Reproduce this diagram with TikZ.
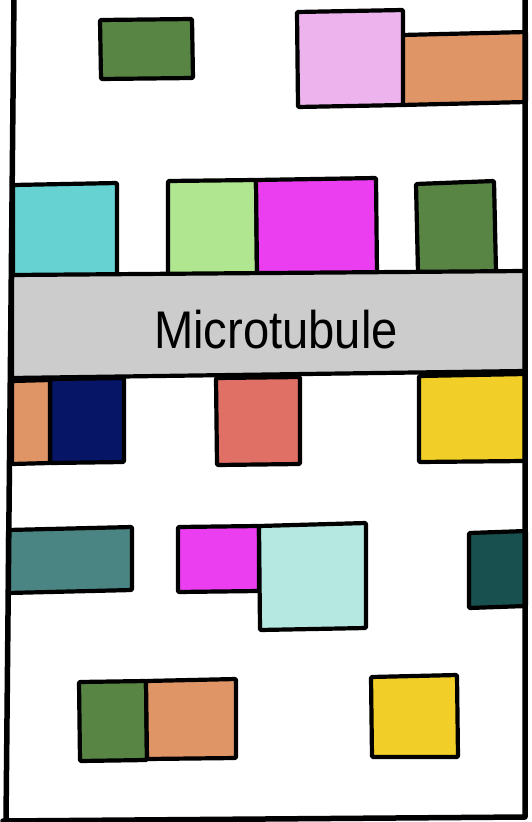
\documentclass[tikz,border=0pt]{standalone}
\usepackage{fontspec}
\newfontfamily\labelfont{Liberation Sans}
\definecolor{dgreen}{HTML}{588543}
\definecolor{pinkc}{HTML}{ECB3EC}
\definecolor{orangec}{HTML}{E09566}
\definecolor{cyanc}{HTML}{66D2D2}
\definecolor{lgreen}{HTML}{B0E690}
\definecolor{magentac}{HTML}{EA3EF0}
\definecolor{grayc}{HTML}{CCCCCC}
\definecolor{navyc}{HTML}{061565}
\definecolor{salmonc}{HTML}{E07065}
\definecolor{yellowc}{HTML}{F2CF28}
\definecolor{tealc}{HTML}{4A8584}
\definecolor{lcyanc}{HTML}{B4E8E0}
\definecolor{dtealc}{HTML}{185050}
\tikzset{
  blk/.style={draw=black, line width=4.2pt, line join=round, rounded corners=1pt},
  frameline/.style={draw=black, line width=5.5pt, line cap=round, line join=round},
}
\begin{document}
\begin{tikzpicture}[x=1pt,y=-1pt]
\useasboundingbox (0,0) rectangle (532,822);
\fill[white] (0,0) rectangle (532,822);
% top row
\draw[blk, fill=dgreen] (100,20) -- (192,19) -- (193,78) -- (101,79) -- cycle;
\draw[blk, fill=orangec] (402,35) -- (526,32) -- (526,102) -- (402,105) -- cycle;
\draw[blk, fill=pinkc] (297,12) -- (403,10) -- (403,105) -- (298,107) -- cycle;
% row above band
\draw[blk, fill=cyanc] (13,185) -- (117,183) -- (117,276) -- (13,277) -- cycle;
\draw[blk, fill=lgreen] (168,181) -- (256,180) -- (257,275) -- (168,276) -- cycle;
\draw[blk, fill=magentac] (256,180) -- (376,178) -- (377,274) -- (257,275) -- cycle;
\draw[blk, fill=dgreen] (416,184) -- (494,181) -- (496,272) -- (418,273) -- cycle;
% band
\draw[blk, fill=grayc] (12,275) -- (525,271) -- (525,371) -- (12,378) -- cycle;
\node[font=\labelfont\fontsize{53}{53}\selectfont, xscale=0.89, inner sep=0pt] (mt) at (276,330) {Microtubule};
% row below band
\draw[blk, fill=navyc] (50,379) -- (124,378) -- (124,462) -- (50,463) -- cycle;
\draw[blk, fill=orangec] (12,381) -- (50,380) -- (50,463) -- (12,464) -- cycle;
\draw[blk, fill=salmonc] (216,378) -- (300,377) -- (300,464) -- (217,465) -- cycle;
\draw[blk, fill=yellowc] (419,376) -- (525,374) -- (525,461) -- (419,462) -- cycle;
% fourth row
\draw[blk, fill=tealc] (8,530) -- (132,527) -- (132,590) -- (8,593) -- cycle;
\draw[blk, fill=magentac] (178,527) -- (259,526) -- (259,591) -- (178,592) -- cycle;
\draw[blk, fill=lcyanc] (259,526) -- (366,523) -- (366,628) -- (260,630) -- cycle;
\draw[blk, fill=dtealc] (469,533) -- (526,531) -- (526,606) -- (469,608) -- cycle;
% bottom row
\draw[blk, fill=dgreen] (79,682) -- (146,681) -- (147,760) -- (80,761) -- cycle;
\draw[blk, fill=orangec] (146,681) -- (236,679) -- (236,758) -- (147,759) -- cycle;
\draw[blk, fill=yellowc] (371,677) -- (457,675) -- (458,757) -- (372,757) -- cycle;
% frame
\draw[frameline] (14,-5) -- (6,822);
\draw[frameline] (3,821) -- (525,817) -- (525,-5);
\end{tikzpicture}
\end{document}
